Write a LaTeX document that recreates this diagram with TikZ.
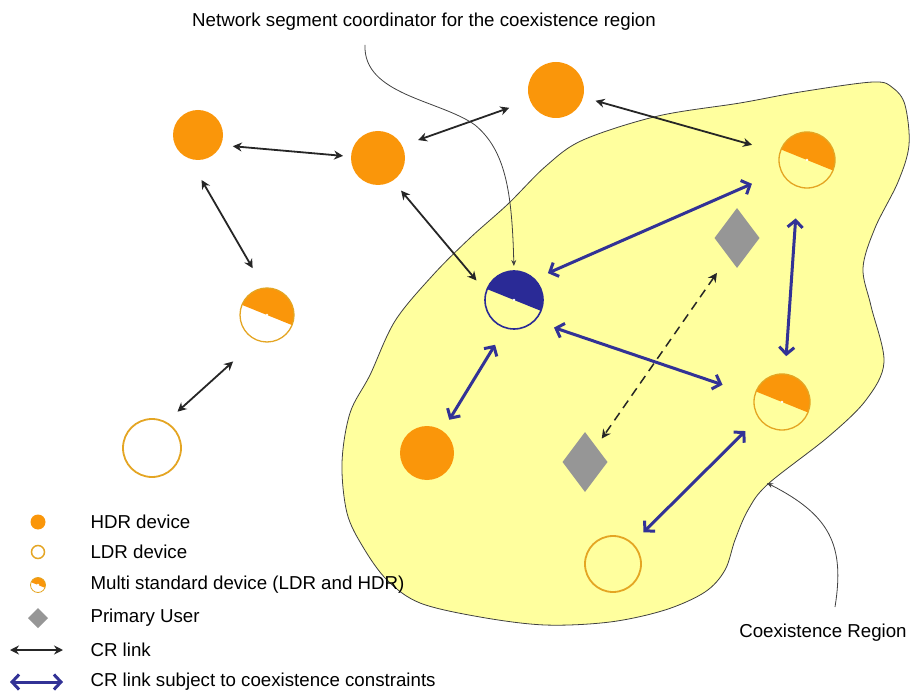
\documentclass[tikz,border=0pt]{standalone}
\usepackage{fontspec}
\setmainfont{Liberation Sans}
\usetikzlibrary{arrows.meta,shapes.geometric}
\definecolor{hdrorange}{RGB}{250,150,10}
\definecolor{ldredge}{RGB}{228,165,35}
\definecolor{coordblue}{RGB}{42,42,150}
\definecolor{linkblue}{RGB}{50,50,150}
\definecolor{regionyellow}{RGB}{255,255,158}
\definecolor{pugray}{RGB}{150,150,150}

\begin{document}
\begin{tikzpicture}[x=1pt, y=-1pt, font=\fontsize{18.7}{22}\selectfont,
hdrnode/.style={circle, fill=hdrorange, minimum size=#1, inner sep=0pt, outer sep=0pt},
ldrnode/.style={circle, draw=ldredge, line width=1.8pt, minimum size=#1, inner sep=0pt, outer sep=0pt},
multinode/.style={circle, draw=ldredge, line width=1.3pt, minimum size=#1, inner sep=0pt, outer sep=0pt,
  path picture={\fill[hdrorange] (path picture bounding box.center) +(-22:40pt) -- +(158:40pt) -- +(113:57pt) -- +(23:57pt) -- cycle;
  \fill[white] (path picture bounding box.center) circle (1.3pt);}},
coordnode/.style={circle, draw=coordblue, line width=1.6pt, minimum size=#1, inner sep=0pt, outer sep=0pt,
  path picture={\fill[coordblue] (path picture bounding box.center) +(-22:40pt) -- +(158:40pt) -- +(113:57pt) -- +(23:57pt) -- cycle;
  \fill[white] (path picture bounding box.center) circle (1.3pt);}},
punode/.style={diamond, fill=pugray, minimum width=#1, minimum height=1.33*#1, inner sep=0pt, outer sep=0pt},
crlink/.style={>={Stealth[length=9pt,width=9pt]}, <->, line width=1.8pt, black!85},
coexlink/.style={>={Straight Barb[length=7pt,width=15pt]}, <->, line width=3pt, linkblue},
note/.style={black!75, line width=0.8pt, -{Stealth[length=6pt,width=5pt]}}
]
    \useasboundingbox (0,0) rectangle (910,692);

    % coexistence region
    \filldraw[fill=regionyellow, draw=black!75, line width=0.8pt] plot[smooth cycle, tension=0.55] coordinates {
      (873,82) (800,92) (740,103) (658,116) (583,140) (546,166) (508,204) (470,238) (433,275)
      (395,321) (370,375) (350,413) (342,463) (347,513) (363,547) (387,580) (420,603) (480,617)
      (545,625) (610,622) (665,610) (705,592) (725,570) (735,540) (748,510) (768,484) (828,437)
      (866,400) (884,362) (871,306) (863,268) (875,228) (898,182) (909,145) (905,105) (893,88)};

    % devices
    \node [hdrnode=50pt] (h1) at (198,135) {};
    \node [hdrnode=54pt] (h2) at (378,158) {};
    \node [hdrnode=56pt] (h3) at (556,90) {};
    \node [hdrnode=54pt] (h4) at (427,453) {};
    \node [multinode=54pt] (m1) at (267,315) {};
    \node [multinode=56pt] (m2) at (807,160) {};
    \node [multinode=56pt] (m3) at (782,402) {};
    \node [ldrnode=58pt] (l1) at (152,448) {};
    \node [ldrnode=56pt] (l2) at (613,564) {};
    \node [coordnode=58pt] (c) at (514,300) {};
    \node [punode=45pt] (d1) at (737,238) {};
    \node [punode=45pt] (d2) at (585,462) {};

    % CR links
    \draw [crlink, shorten <=12pt, shorten >=8pt] (h1.-24) -- (h2.177);
    \draw [crlink, shorten <=17pt, shorten >=22pt] (h2.27) -- (h3.202);
    \draw [crlink, shorten <=13pt, shorten >=29pt] (h3.-15) -- (m2.165);
    \draw [crlink, shorten <=25pt, shorten >=23pt] (h1.-111) -- (m1.96);
    \draw [crlink, shorten <=13pt, shorten >=15pt] (h2.-57) -- (c.164);
    \draw [crlink, shorten <=32pt, shorten >=16pt] (m1.-112) -- (l1.62);

    % links subject to coexistence constraints
    \draw [coexlink, shorten <=15pt, shorten >=32pt] (c.46) -- (m2.203);
    \draw [coexlink, shorten <=21pt, shorten >=34pt] (c.-46) -- (m3.167);
    \draw [coexlink, shorten <=20pt, shorten >=13pt] (c.-107) -- (h4.55);
    \draw [coexlink, shorten <=32pt, shorten >=18pt] (m2.-109) -- (m3.84);
    \draw [coexlink, shorten <=19pt, shorten >=16pt] (m3.-146) -- (l2.47);
    \draw [crlink, dash pattern=on 9pt off 6pt, line width=1.5pt, shorten <=20pt, shorten >=10pt] (d1.-115) -- (d2.54);

    % captions
    \node (ttl) at (424,22) {Network segment coordinator for the coexistence region};
    \coordinate (tc) at (365,45);
    \draw [note, shorten >=5pt] (tc) .. controls (363,95) and (440,100) .. (475,125) .. controls (505,150) and (512,190) .. (c.north);
    \node (reg) at (823,633) {Coexistence Region};
    \coordinate (rs) at (835,607);
    \coordinate (rt) at (767,483);
    \draw [note] (rs) .. controls (845,545) and (830,515) .. (rt);

    % legend
    \node [hdrnode=15pt] (k1) at (38,522) {};
    \node [ldrnode=13pt, line width=1.5pt] (k2) at (38,552) {};
    \node [multinode=15pt, line width=0.8pt] (k3) at (38,585) {};
    \node [punode=20pt, minimum height=20pt] (k4) at (38,618) {};
    \coordinate (k5a) at (10,650);
    \coordinate (k5b) at (63,650);
    \draw [crlink] (k5a) -- (k5b);
    \coordinate (k6a) at (10,682);
    \coordinate (k6b) at (63,682);
    \draw [coexlink] (k6a) -- (k6b);
    \node [anchor=west] (t1) at (87,522) {HDR device};
    \node [anchor=west] (t2) at (87,552) {LDR device};
    \node [anchor=west] (t3) at (87,585) {Multi standard device (LDR and HDR)};
    \node [anchor=west] (t4) at (87,618) {Primary User};
    \node [anchor=west] (t5) at (87,650) {CR link};
    \node [anchor=west] (t6) at (87,682) {CR link subject to coexistence constraints};
\end{tikzpicture}
\end{document}
